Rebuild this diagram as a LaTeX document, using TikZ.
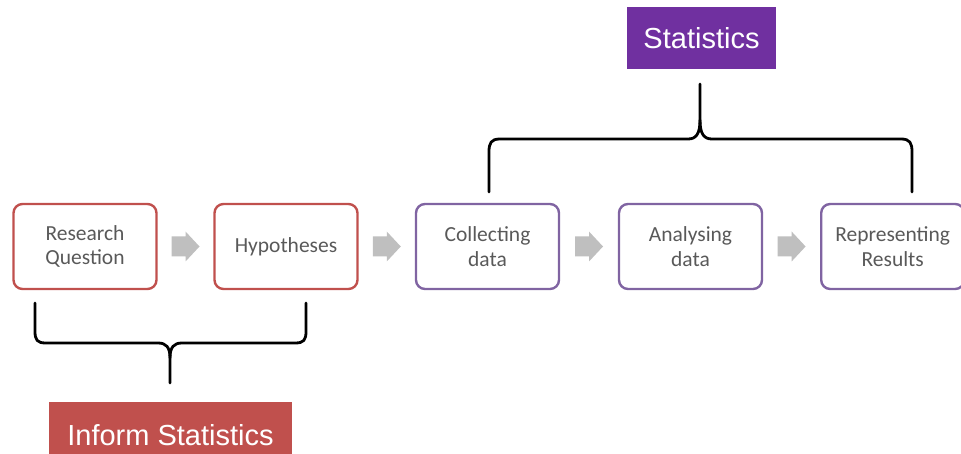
\documentclass[tikz,border=0pt]{standalone}
\usepackage{fontspec}
\setmainfont{Carlito}
\newfontfamily\labelfont{Liberation Sans}
\usetikzlibrary{calc}
\definecolor{stepred}{HTML}{C0504D}
\definecolor{steppurple}{HTML}{8064A2}
\definecolor{tagpurple}{HTML}{7030A0}
\definecolor{steptext}{HTML}{595959}
\definecolor{flowgray}{HTML}{BFBFBF}

% block arrow centred on a coordinate
\newcommand{\flowarrow}[1]{%
  \fill[flow] ($(#1)+(-14,-10)$) -- ++(14,0) -- ++(0,-5) -- ++(14,15)
    -- ++(-14,15) -- ++(0,-5) -- ++(-14,0) -- cycle;}

\begin{document}
\begin{tikzpicture}[x=1pt,y=-1pt,
  stepbox/.style={draw, line width=2.4pt, rounded corners=9pt,
    minimum width=143pt, minimum height=85pt, inner sep=0pt,
    align=center, text=steptext, font=\fontsize{21.5}{24.5}\selectfont},
  redstep/.style={stepbox, draw=stepred},
  purplestep/.style={stepbox, draw=steppurple},
  tagbox/.style={inner sep=0pt, text=white,
    font=\labelfont\fontsize{29}{32}\selectfont},
  brace/.style={draw=black, line width=2.8pt, line join=round, line cap=round},
  flow/.style={fill=flowgray}]

\useasboundingbox (0,0) rectangle (961,454);
\clip (0,0) rectangle (961,454);

% process steps
\node[redstep]    (rq) at (85,246.5)    {Research\\Question};
\node[redstep]    (hy) at (286,246.5)   {Hypotheses};
\node[purplestep] (cd) at (487.5,246.5) {Collecting\\data};
\node[purplestep] (ad) at (690.5,246.5) {Analysing\\data};
\node[purplestep] (rr) at (892.7,246.5) {Representing\\Results};

% flow arrows between the steps
\coordinate (m1) at ($(rq.east)!0.5!(hy.west)$);
\coordinate (m2) at ($(hy.east)!0.5!(cd.west)$);
\coordinate (m3) at ($(cd.east)!0.5!(ad.west)$);
\coordinate (m4) at ($(ad.east)!0.5!(rr.west)$);
\flowarrow{m1}
\flowarrow{m2}
\flowarrow{m3}
\flowarrow{m4}

% group labels
\node[tagbox, fill=tagpurple, minimum width=149pt, minimum height=62pt]
  (st) at (701.5,38) {Statistics};
\node[tagbox, fill=stepred, minimum width=243pt, minimum height=66pt]
  (is) at (170.5,435) {Inform Statistics};

% brace over the statistics steps
\draw[brace] (489,192) -- (489,152) .. controls (489,143) and (491,139) .. (500,139)
  -- (688,139) .. controls (696,139) and (700,134) .. (700,120) -- (700,84);
\draw[brace] (912,192) -- (912,152) .. controls (912,143) and (910,139) .. (901,139)
  -- (712,139) .. controls (704,139) and (700,134) .. (700,120);

% brace under the informing steps
\draw[brace] (35,303) -- (35,331) .. controls (35,340) and (37,343) .. (46,343)
  -- (158,343) .. controls (166,343) and (170,347) .. (170,358) -- (170,383);
\draw[brace] (306,303) -- (306,331) .. controls (306,340) and (304,343) .. (295,343)
  -- (182,343) .. controls (174,343) and (170,347) .. (170,358);

\end{tikzpicture}
\end{document}
